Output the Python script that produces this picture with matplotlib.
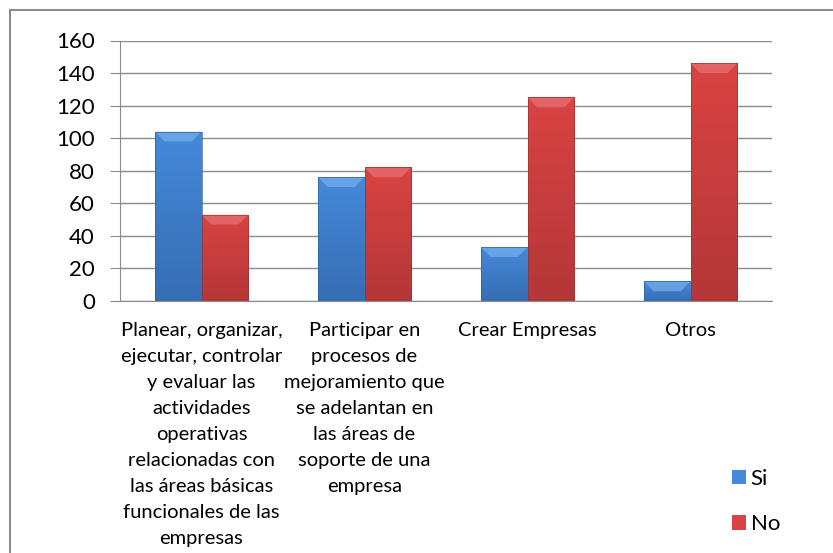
import numpy as np
import matplotlib
matplotlib.use("Agg")
import matplotlib.pyplot as plt
from matplotlib.patches import Rectangle, Polygon
from matplotlib.colors import LinearSegmentedColormap

plt.rcParams['font.family'] = ['Lato', 'DejaVu Sans']

categorias = [
    "Planear, organizar,\nejecutar, controlar\ny evaluar las\nactividades\noperativas\nrelacionadas con\nlas áreas básicas\nfuncionales de las\nempresas",
    "Participar en\nprocesos de\nmejoramiento que\nse adelantan en\nlas áreas de\nsoporte de una\nempresa",
    "Crear Empresas",
    "Otros",
]
si = [104, 76, 33, 12]
no = [53, 82, 125, 146]
series = ["Si", "No"]

# color alto, color bajo, brillo del bisel
colores = {
    "Si": ("#4589da", "#2f5f9f", "#7fb6f0"),
    "No": ("#d94343", "#a13030", "#ec7c7c"),
}

fig = plt.figure(figsize=(8.33, 5.53), dpi=100)
ax = fig.add_axes([120 / 833, 1 - 301 / 553, (772 - 120) / 833, (301 - 40.5) / 553])

x = np.arange(len(categorias))
w = 1 / 3.5


def bevel_bars(xs, vals, nombre):
    top, bottom, light = colores[nombre]
    bars = ax.bar(xs, vals, w, color=top, edgecolor='none',
                  zorder=3, label=nombre)
    cmap = LinearSegmentedColormap.from_list(nombre, [bottom, top])
    for b in bars:
        x0, x1 = b.get_x(), b.get_x() + b.get_width()
        h = b.get_height()
        grad = np.linspace(0.35, 1, 64).reshape(-1, 1)
        im = ax.imshow(grad, extent=(x0, x1, 0, h), origin='lower',
                       cmap=cmap, vmin=0, vmax=1, aspect='auto', zorder=3.5)
        im.set_clip_path(b)
        dx = 0.06
        dy = min(6.0, h * 0.5)
        ax.add_patch(Polygon([(x0, h), (x1, h), (x1 - dx, h - dy), (x0 + dx, h - dy)],
                             closed=True, facecolor=light, edgecolor='none',
                             alpha=0.6, zorder=4))
        ax.add_patch(Rectangle((x0, 0), x1 - x0, h, facecolor='none',
                               edgecolor=bottom, linewidth=0.6, alpha=0.8, zorder=4.5))
    return bars


bevel_bars(x - w / 2, si, "Si")
bevel_bars(x + w / 2, no, "No")

ax.set_xlim(-0.5, 3.5)
ax.set_ylim(0, 160)
ax.set_yticks(range(0, 161, 20))
ax.yaxis.grid(True, color='#8c8c8c', linewidth=1.0, zorder=0)
ax.set_axisbelow(True)
for s in ['top', 'right']:
    ax.spines[s].set_visible(False)
ax.spines['left'].set_color('#8c8c8c')
ax.spines['bottom'].set_color('#8c8c8c')
ax.tick_params(axis='y', length=7, color='#8c8c8c', labelsize=16, pad=11)
ax.tick_params(axis='x', length=0, labelsize=14.5, pad=15)
ax.set_xticks(x)
ax.set_xticklabels(categorias, linespacing=1.64, va='top')

ax.legend(loc='center left', bbox_to_anchor=(0.865, 0.093),
          bbox_transform=fig.transFigure, frameon=False, fontsize=16,
          handlelength=0.65, handleheight=0.65, handletextpad=0.2,
          labelspacing=1.15, borderpad=0)

fig.add_artist(Rectangle((10 / 833, -0.1), 1.2, 1.1 - 10 / 553,
                         transform=fig.transFigure, facecolor='none',
                         edgecolor='#8c8c8c', linewidth=1.5))

fig.savefig("out.png", dpi=100)
